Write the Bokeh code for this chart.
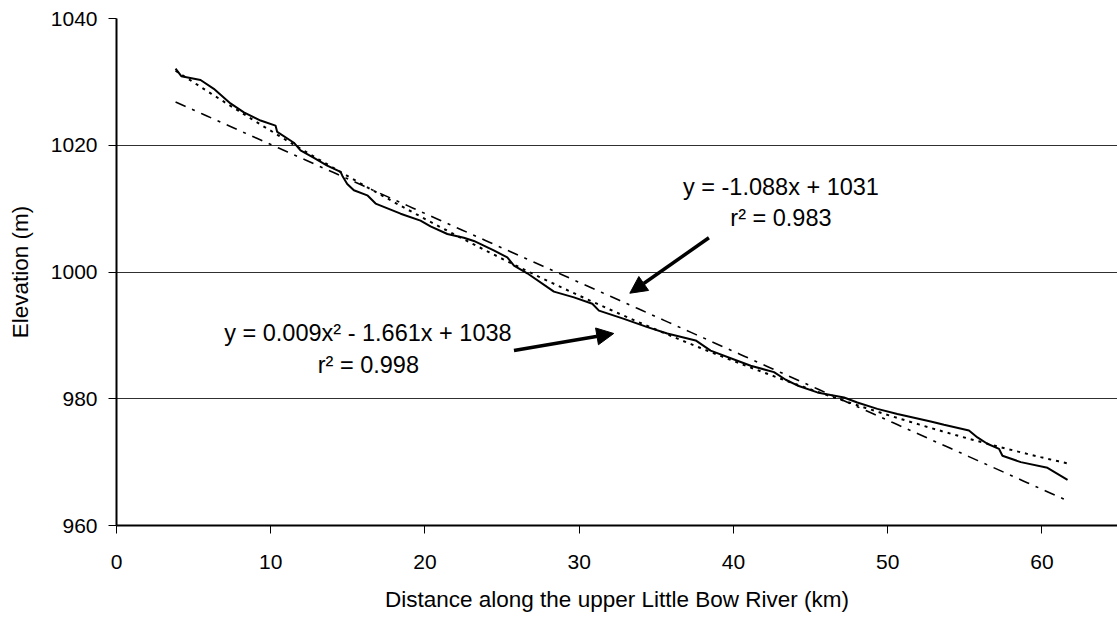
import numpy as np
from bokeh.plotting import figure
from bokeh.models import Range1d, FixedTicker, Arrow, NormalHead
from bokeh.core.properties import value
from bokeh.embed import file_html
from bokeh.resources import INLINE

# Observed river profile (distance km, elevation m)
dist = [3.83, 4.20, 5.45, 6.31, 7.39, 8.26, 9.34, 10.31, 10.42, 11.50, 11.93, 12.80,
        13.66, 14.53, 14.64, 14.96, 15.39, 16.26, 16.80, 18.42, 19.71, 20.36, 21.45,
        22.52, 23.17, 24.46, 25.34, 25.77, 26.63, 28.36, 29.66, 30.85, 31.28, 32.90,
        34.42, 35.71, 37.55, 38.52, 40.47, 41.12, 42.63, 43.39, 44.14, 45.44, 46.30,
        47.17, 48.03, 49.33, 50.63, 52.79, 53.65, 55.27, 55.82, 56.46, 57.22, 57.44,
        58.63, 60.36, 61.66]
elev = [1032.1, 1030.9, 1030.3, 1028.9, 1026.6, 1025.2, 1023.9, 1023.1, 1022.1, 1020.4,
        1019.2, 1018.0, 1016.8, 1015.8, 1015.2, 1013.9, 1012.9, 1012.1, 1010.8, 1009.2,
        1008.1, 1007.2, 1006.0, 1005.4, 1004.9, 1003.4, 1002.3, 1001.0, 999.8, 996.9,
        996.0, 995.0, 993.9, 992.6, 991.3, 990.3, 989.2, 987.6, 985.8, 985.2, 984.2,
        983.0, 982.1, 981.0, 980.6, 980.2, 979.4, 978.4, 977.6, 976.4, 975.9, 975.0,
        973.9, 972.9, 972.1, 971.0, 970.0, 969.1, 967.2]

# Trendline equations as printed on the chart
linear_coef = [-1.088, 1031]
quad_coef = [0.009, -1.661, 1038]

x_ticks = [0, 10, 20, 30, 40, 50, 60]
y_ticks = [960, 980, 1000, 1020, 1040]

eq_linear = ["y = -1.088x + 1031", "r\u00b2 = 0.983"]
eq_quad = ["y = 0.009x\u00b2 - 1.661x + 1038", "r\u00b2 = 0.998"]

FONT = "Liberation Sans"

p = figure(width=1117, height=617, output_backend="svg", toolbar_location=None,
           x_range=Range1d(0, 64.9), y_range=Range1d(960, 1040),
           min_border_left=116, min_border_right=0, min_border_top=18, min_border_bottom=92)
p.outline_line_color = None
p.background_fill_color = "white"
p.border_fill_color = "white"

tx = np.linspace(min(dist), max(dist), 200)
p.line(tx, np.polyval(linear_coef, tx), line_color="black", line_width=1.6, line_dash="11 7 3 7")
p.line(tx, np.polyval(quad_coef, tx), line_color="black", line_width=2, line_dash="3 5")
p.line(dist, elev, line_color="black", line_width=2)

# axes
for ax in (p.xaxis[0], p.yaxis[0]):
    ax.axis_line_width = 2
    ax.axis_line_color = "black"
    ax.major_tick_out = 8
    ax.major_tick_in = 0
    ax.major_tick_line_color = "black"
    ax.minor_tick_line_color = None
    ax.major_label_text_font = FONT
    ax.major_label_text_font_size = "21px"
    ax.major_label_text_color = "black"
    ax.axis_label_text_font = FONT
    ax.axis_label_text_font_size = "22.5px"
    ax.axis_label_text_font_style = "normal"
    ax.axis_label_text_color = "black"
p.xaxis.ticker = FixedTicker(ticks=x_ticks)
p.yaxis.ticker = FixedTicker(ticks=y_ticks)
p.xaxis.axis_label = "Distance along the upper Little Bow River (km)"
p.yaxis.axis_label = "Elevation (m)"
p.xaxis.major_label_standoff = 21
p.yaxis.major_label_standoff = 11
p.xaxis.axis_label_standoff = 15
p.yaxis.axis_label_standoff = 15

p.xgrid.grid_line_color = None
p.ygrid.grid_line_color = "#303030"
p.ygrid.grid_line_width = 1

# equation labels
p.text(x=[43.08, 43.08], y=[1013.35, 1008.45], text=eq_linear, text_align="center",
       text_baseline="alphabetic", text_font=value(FONT), text_font_size="23.5px", text_color="black")
p.text(x=[16.30, 16.33], y=[990.3, 985.3], text=eq_quad, text_align="center",
       text_baseline="alphabetic", text_font=value(FONT), text_font_size="23.5px", text_color="black")

# arrows
arrow_linear = dict(x_start=38.41, y_start=1005.4, x_end=33.28, y_end=996.65)
arrow_quad = dict(x_start=25.77, y_start=987.6, x_end=32.24, y_end=990.3)
for a in (arrow_linear, arrow_quad):
    p.add_layout(Arrow(end=NormalHead(size=17, fill_color="black", line_color="black"),
                       line_width=3.5, line_color="black", **a))

open("out.html", "w").write(file_html(p, INLINE))
